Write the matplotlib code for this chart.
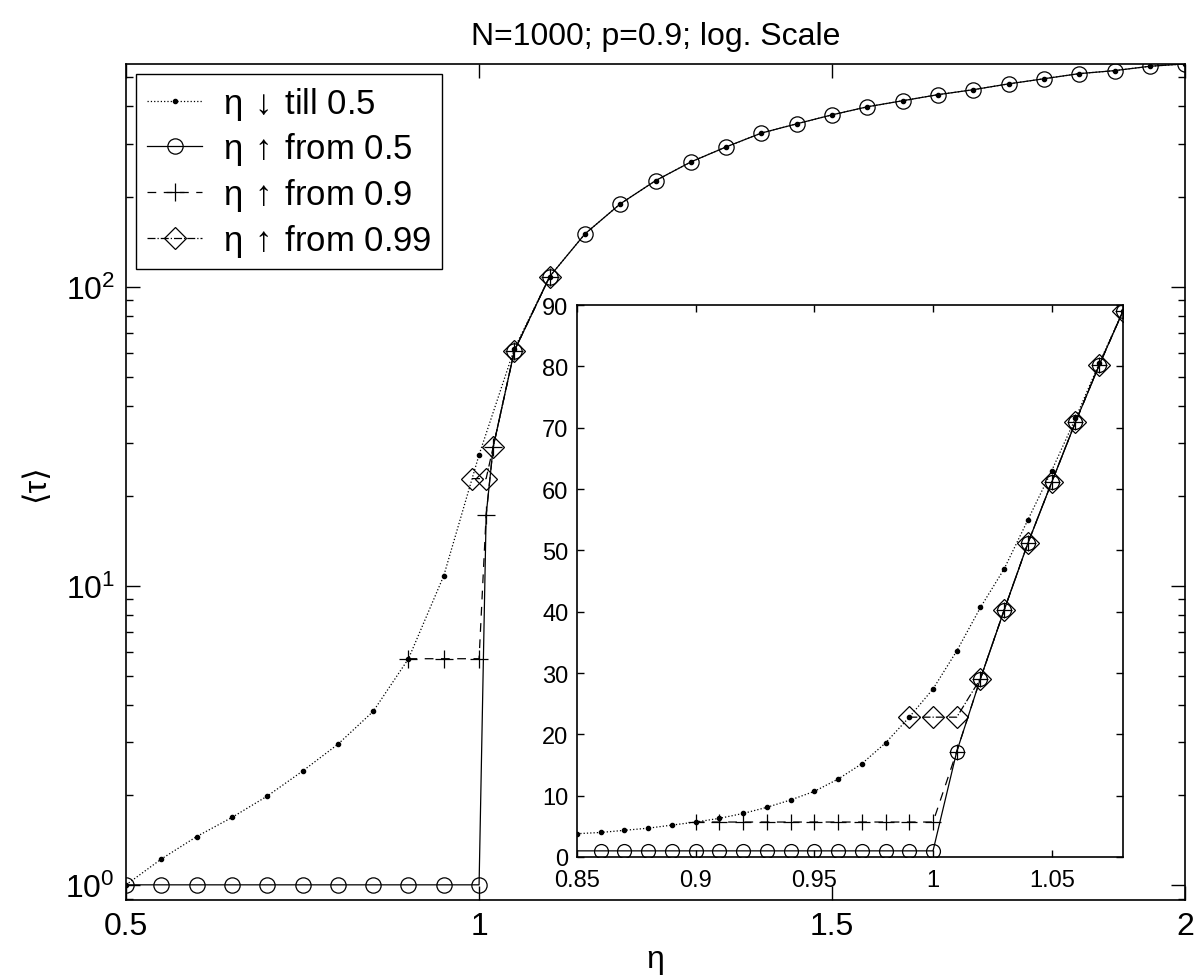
import matplotlib
matplotlib.use("Agg")
import matplotlib.pyplot as plt

plt.rcParams["font.family"] = ["Liberation Sans", "DejaVu Sans"]
plt.rcParams["mathtext.fontset"] = "custom"
plt.rcParams["mathtext.rm"] = "Liberation Sans"

# main plot (log scale), eta step 0.05
eta_main = [0.5, 0.55, 0.6, 0.65, 0.7, 0.75, 0.8, 0.85, 0.9, 0.95, 1.0,
            1.05, 1.1, 1.15, 1.2, 1.25, 1.3, 1.35, 1.4, 1.45, 1.5,
            1.55, 1.6, 1.65, 1.7, 1.75, 1.8, 1.85, 1.9, 1.95, 2.0]
tau_down = [1.0, 1.22, 1.45, 1.68, 1.98, 2.4, 2.95, 3.8, 5.7, 10.8, 27.4,
            62, 108, 150, 189, 226, 261, 293, 326, 350, 375,
            399, 418, 438, 455, 476, 495, 515, 527, 545, 555]

eta_up05 = [0.5, 0.55, 0.6, 0.65, 0.7, 0.75, 0.8, 0.85, 0.9, 0.95, 1.0,
            1.01, 1.02, 1.05, 1.1, 1.15, 1.2, 1.25, 1.3, 1.35, 1.4, 1.45,
            1.5, 1.55, 1.6, 1.65, 1.7, 1.75, 1.8, 1.85, 1.9, 1.95, 2.0]
tau_up05 = [1, 1, 1, 1, 1, 1, 1, 1, 1, 1, 1,
            17.2, 29.1, 61, 108, 150, 189, 226, 261, 293, 326, 350,
            375, 399, 418, 438, 455, 476, 495, 515, 527, 545, 555]

eta_up09 = [0.9, 0.95, 1.0, 1.01, 1.02, 1.05, 1.1]
tau_up09 = [5.7, 5.7, 5.7, 17.2, 29.1, 61, 108]

eta_up099 = [0.99, 1.01, 1.02, 1.05, 1.1]
tau_up099 = [22.8, 22.8, 29.1, 61, 108]

# inset (linear scale), eta step 0.01
eta_in = [0.85, 0.86, 0.87, 0.88, 0.89, 0.9, 0.91, 0.92, 0.93, 0.94, 0.95, 0.96,
          0.97, 0.98, 0.99, 1.0, 1.01, 1.02, 1.03, 1.04, 1.05, 1.06, 1.07, 1.08]
tau_in_down = [3.8, 4.0, 4.35, 4.7, 5.2, 5.7, 6.3, 7.1, 8.1, 9.3, 10.7, 12.7,
               15.2, 18.6, 22.8, 27.4, 33.6, 40.7, 47, 55, 63, 71.5, 80.5, 89]
tau_in_up05 = [1, 1, 1, 1, 1, 1, 1, 1, 1, 1, 1, 1,
               1, 1, 1, 1, 17.2, 29.1, 40.3, 51.2, 61.1, 70.9, 80.2, 89]

eta_in09 = [0.9, 0.91, 0.92, 0.93, 0.94, 0.95, 0.96, 0.97, 0.98, 0.99, 1.0,
            1.01, 1.02, 1.03, 1.04, 1.05, 1.06, 1.07, 1.08]
tau_in09 = [5.7, 5.7, 5.7, 5.7, 5.7, 5.7, 5.7, 5.7, 5.7, 5.7, 5.7,
            17.2, 29.1, 40.3, 51.2, 61.1, 70.9, 80.2, 89]

eta_in099 = [0.99, 1.0, 1.01, 1.02, 1.03, 1.04, 1.05, 1.06, 1.07, 1.08]
tau_in099 = [22.8, 22.8, 22.8, 29.1, 40.3, 51.2, 61.1, 70.9, 80.2, 89]

labels = [r"η$\,\downarrow\,$till 0.5", r"η$\,\uparrow\,$from 0.5",
          r"η$\,\uparrow\,$from 0.9", r"η$\,\uparrow\,$from 0.99"]

lw = 0.9
fig = plt.figure(figsize=(11.96, 9.79), dpi=100)
ax = fig.add_axes([0.1054, 0.0797, 0.8855, 0.854])

circ_marks = [i for i, e in enumerate(eta_up05) if e not in (1.01, 1.02)]
ax.plot(eta_main, tau_down, ":", color="k", lw=lw, marker=".", ms=6, label=labels[0])
ax.plot(eta_up05, tau_up05, "-", color="k", lw=lw, marker="o", ms=11, mfc="none",
        mew=lw, markevery=circ_marks, label=labels[1])
ax.plot(eta_up09, tau_up09, "--", color="k", lw=lw, marker="+", ms=13, mew=lw,
        dashes=(7, 6), label=labels[2])
ax.plot(eta_up099, tau_up099, "-.", color="k", lw=lw, marker="D", ms=11, mfc="none",
        mew=lw, label=labels[3])

ax.set_yscale("log")
ax.set_xlim(0.5, 2.0)
ax.set_ylim(0.89, 555)
ax.set_xticks([0.5, 1, 1.5, 2])
ax.set_xticklabels(["0.5", "1", "1.5", "2"])
ax.tick_params(which="both", direction="in", top=True, right=True, labelsize=23, width=1)
ax.tick_params(which="major", length=10, pad=8)
ax.tick_params(which="minor", length=5)
ax.tick_params(axis="x", which="minor", bottom=False, top=False)
for s in ax.spines.values():
    s.set_linewidth(1.2)

ax.set_title("N=1000; p=0.9; log. Scale", fontsize=23, pad=14)
ax.set_xlabel("η", fontsize=23, labelpad=2)
ax.set_ylabel("⟨τ⟩", fontsize=23, labelpad=10)

leg = ax.legend(loc="upper left", fontsize=25, numpoints=1, fancybox=False,
                edgecolor="k", framealpha=1, borderaxespad=0.3,
                handlelength=1.6, handletextpad=0.6, labelspacing=0.25,
                borderpad=0.3)
leg.get_frame().set_linewidth(1.0)

# inset
axi = fig.add_axes([0.4824, 0.1236, 0.4565, 0.5638])
axi.plot(eta_in, tau_in_down, ":", color="k", lw=lw, marker=".", ms=6)
axi.plot(eta_in, tau_in_up05, "-", color="k", lw=lw, marker="o", ms=10, mfc="none",
         mew=lw, markevery=slice(1, None))
axi.plot(eta_in09, tau_in09, "--", color="k", lw=lw, marker="+", ms=12, mew=lw,
         dashes=(7, 6))
axi.plot(eta_in099, tau_in099, "-.", color="k", lw=lw, marker="D", ms=11, mfc="none",
         mew=lw)
axi.set_xlim(0.85, 1.08)
axi.set_ylim(0, 90)
axi.set_xticks([0.85, 0.9, 0.95, 1, 1.05])
axi.set_xticklabels(["0.85", "0.9", "0.95", "1", "1.05"])
axi.set_yticks(range(0, 91, 10))
axi.tick_params(direction="in", top=True, right=True, labelsize=17, length=5, width=1)
axi.tick_params(axis="x", pad=9)
axi.tick_params(axis="y", pad=6)
for s in axi.spines.values():
    s.set_linewidth(1.2)

fig.savefig("out.png", dpi=100)
